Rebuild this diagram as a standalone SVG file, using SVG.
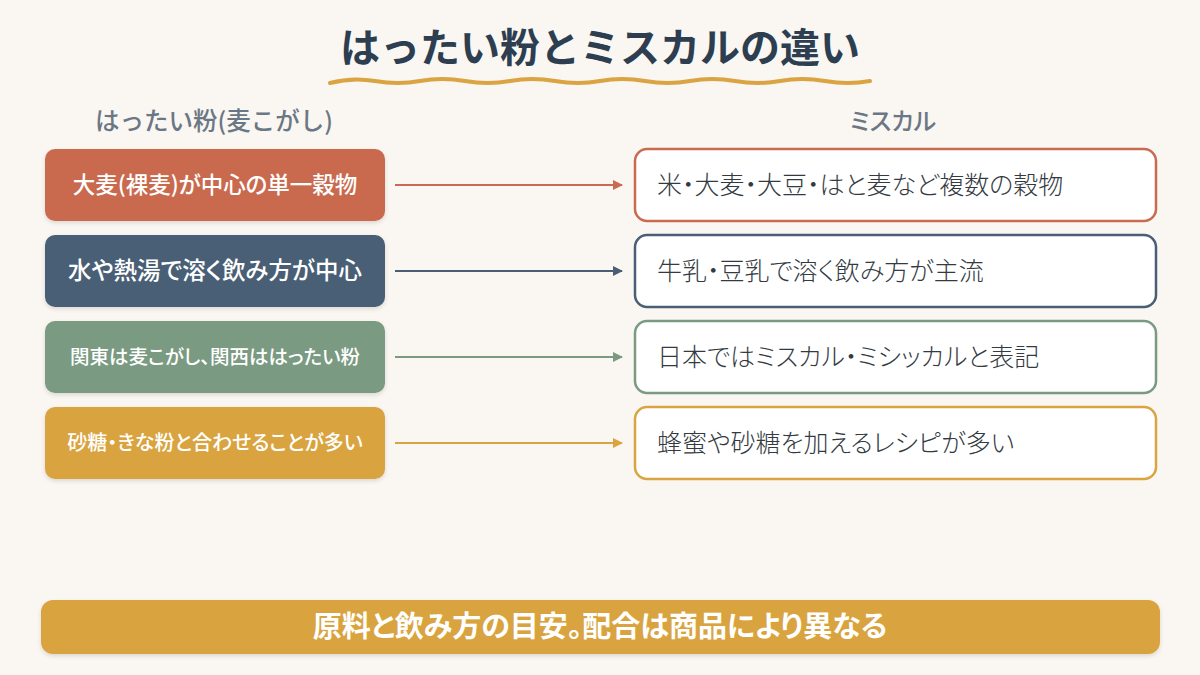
<svg xmlns="http://www.w3.org/2000/svg" width="1200" height="675" viewBox="0 0 1200 675">
<defs>
<style>
.jp{font-family:"Noto Sans CJK JP","Noto Sans",sans-serif}
.p{font-feature-settings:"palt" 1}
.title{font-size:40px;font-weight:700;fill:#2c3e50}
.hdr{font-size:24px;font-weight:500;fill:#6b7785}
.ltxt{font-size:22.5px;font-weight:500;fill:#ffffff}
.rtxt{font-size:25px;font-weight:300;fill:#333a42}
.rbox{fill:#ffffff;stroke-width:2.5}
.conn{stroke-width:2;fill:none}
</style>
<filter id="sh" x="-5%" y="-10%" width="110%" height="130%">
<feDropShadow dx="0" dy="2" stdDeviation="2" flood-color="#000" flood-opacity="0.12"/>
</filter>
<marker id="a1" markerWidth="10" markerHeight="10" refX="9" refY="5" orient="auto" markerUnits="userSpaceOnUse"><path d="M0,0 L10,5 L0,10 Z" fill="#c96b50"/></marker>
<marker id="a2" markerWidth="10" markerHeight="10" refX="9" refY="5" orient="auto" markerUnits="userSpaceOnUse"><path d="M0,0 L10,5 L0,10 Z" fill="#4a5e75"/></marker>
<marker id="a3" markerWidth="10" markerHeight="10" refX="9" refY="5" orient="auto" markerUnits="userSpaceOnUse"><path d="M0,0 L10,5 L0,10 Z" fill="#7a9a82"/></marker>
<marker id="a4" markerWidth="10" markerHeight="10" refX="9" refY="5" orient="auto" markerUnits="userSpaceOnUse"><path d="M0,0 L10,5 L0,10 Z" fill="#d9a441"/></marker>
</defs>
<rect width="1200" height="675" fill="#faf6f1"/>
<g id="title">
<text class="jp title" x="600" y="62" text-anchor="middle">はったい粉とミスカルの違い</text>
<path d="M330,83 Q352,77 375,81 T420,81 T465,81 T510,81 T555,81 T600,81 T645,81 T690,81 T735,81 T780,81 T825,81 T870,81" fill="none" stroke="#d9a441" stroke-width="4" stroke-linecap="round"/>
</g>
<g id="headers">
<text class="jp hdr" x="214" y="130" text-anchor="middle" style="font-size:24.5px">はったい粉(麦こがし)</text>
<text class="jp p hdr" x="893" y="130" text-anchor="middle">ミスカル</text>
</g>
<g id="connectors">
<line class="conn" x1="395" y1="185" x2="622" y2="185" stroke="#c96b50" marker-end="url(#a1)"/>
<line class="conn" x1="395" y1="271" x2="622" y2="271" stroke="#4a5e75" marker-end="url(#a2)"/>
<line class="conn" x1="395" y1="357" x2="622" y2="357" stroke="#7a9a82" marker-end="url(#a3)"/>
<line class="conn" x1="395" y1="443" x2="622" y2="443" stroke="#d9a441" marker-end="url(#a4)"/>
</g>
<g id="left1"><rect x="45" y="149" width="340" height="72" rx="10" fill="#c96b50" filter="url(#sh)"/><text class="jp p ltxt" x="215" y="193" text-anchor="middle">大麦(裸麦)が中心の単一穀物</text></g>
<g id="left2"><rect x="45" y="235" width="340" height="72" rx="10" fill="#4a5e75" filter="url(#sh)"/><text class="jp p ltxt" x="215" y="279" text-anchor="middle" style="font-size:23.5px">水や熱湯で溶く飲み方が中心</text></g>
<g id="left3"><rect x="45" y="321" width="340" height="72" rx="10" fill="#7a9a82" filter="url(#sh)"/><text class="jp p ltxt" x="215" y="364" text-anchor="middle" style="font-size:19.5px">関東は麦こがし、関西ははったい粉</text></g>
<g id="left4"><rect x="45" y="407" width="340" height="72" rx="10" fill="#d9a441" filter="url(#sh)"/><text class="jp p ltxt" x="215" y="450" text-anchor="middle" style="font-size:20px">砂糖・きな粉と合わせることが多い</text></g>
<g id="right1"><rect class="rbox" x="635" y="149" width="521" height="72" rx="12" stroke="#c96b50"/><text class="jp p rtxt" x="657" y="194">米・大麦・大豆・はと麦など複数の穀物</text></g>
<g id="right2"><rect class="rbox" x="635" y="235" width="521" height="72" rx="12" stroke="#4a5e75"/><text class="jp p rtxt" x="657" y="280">牛乳・豆乳で溶く飲み方が主流</text></g>
<g id="right3"><rect class="rbox" x="635" y="321" width="521" height="72" rx="12" stroke="#7a9a82"/><text class="jp p rtxt" x="657" y="366">日本ではミスカル・ミシッカルと表記</text></g>
<g id="right4"><rect class="rbox" x="635" y="407" width="521" height="72" rx="12" stroke="#d9a441"/><text class="jp p rtxt" x="657" y="452">蜂蜜や砂糖を加えるレシピが多い</text></g>
<g id="footer"><rect x="41" y="600" width="1119" height="54" rx="12" fill="#d9a441" filter="url(#sh)"/><text class="jp p" x="600" y="637" text-anchor="middle" style="font-size:29px;font-weight:700;fill:#ffffff">原料と飲み方の目安。配合は商品により異なる</text></g>
</svg>
